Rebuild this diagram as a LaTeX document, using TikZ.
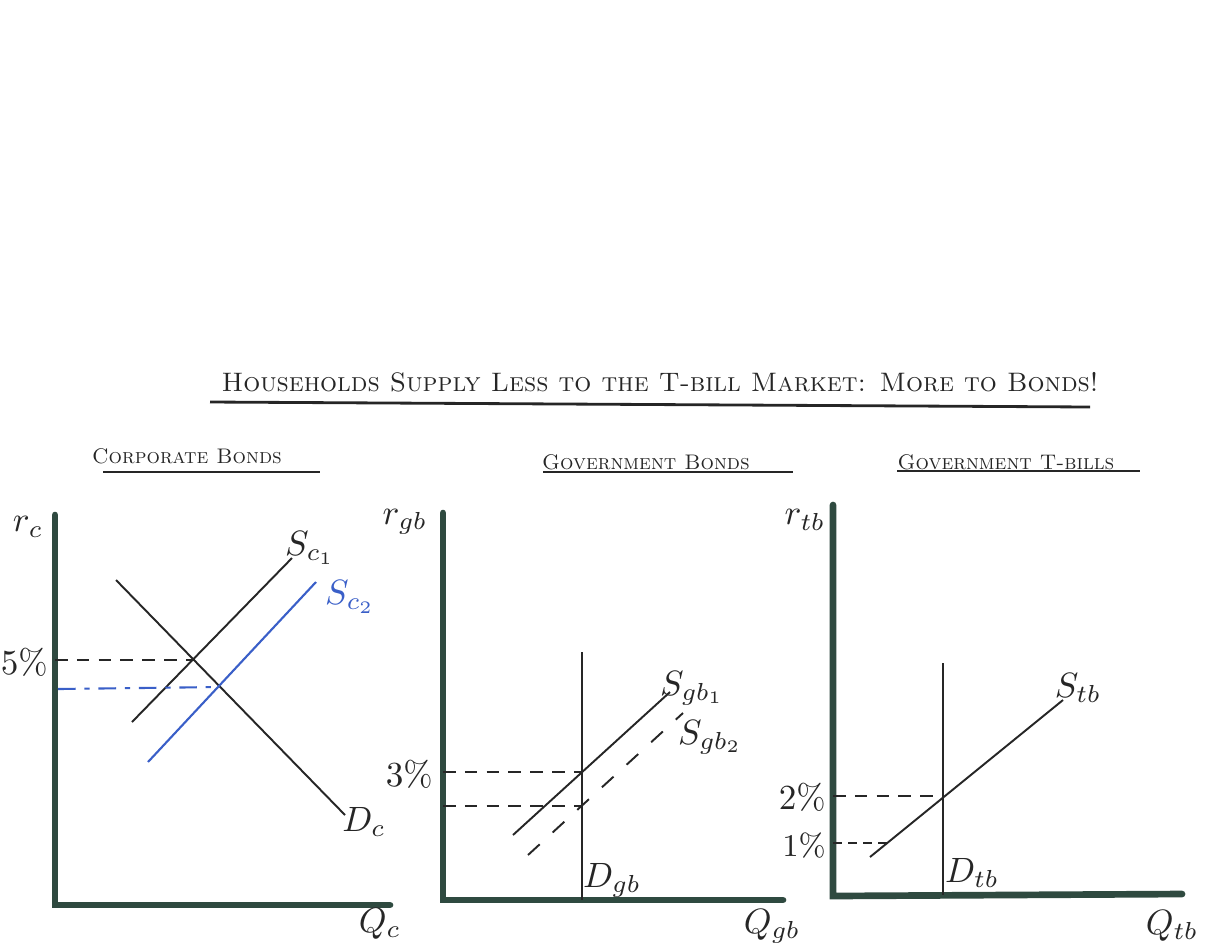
\documentclass[tikz,border=0pt]{standalone}
\usepackage{amsmath}
\usepackage{tikz}
\usetikzlibrary{positioning,calc}
\usepackage{xcolor}
\definecolor{axisgreen}{HTML}{2F4A40}
\definecolor{penblue}{HTML}{3A5FC8}
\definecolor{penblack}{HTML}{262626}

\begin{document}
\begin{tikzpicture}[
  x=0.01cm, y=-0.01cm,
  axis/.style={line width=1.9pt, draw=axisgreen, line cap=round},
  curve/.style={line width=0.55pt, draw=penblack},
  shifted/.style={line width=0.6pt, draw=penblue},
  guide/.style={line width=0.55pt, draw=penblack, dash pattern=on 3.6pt off 2.6pt},
  lbl/.style={font=\normalsize, text=penblack, inner sep=1pt},
  head/.style={font=\fontsize{6}{7}\selectfont, text=penblack, inner sep=1pt}
]
  \useasboundingbox (0,0) rectangle (1231,942);

  % Title
  \node[font=\fontsize{7.6}{9}\selectfont, text=penblack] (title) at (660,382)
    {\textsc{Households Supply Less to the T-bill Market: More to Bonds!}};
  \draw[line width=0.8pt, penblack] (210,402) -- (1090,407);

  % ---------- Corporate bonds ----------
  \node[head] (hc) at (187,456) {\textsc{Corporate Bonds}};
  \draw[line width=0.7pt, penblack] (103,472) -- (320,472);
  \coordinate (oc) at (55,905);
  \coordinate (ytc) at (55,515);
  \coordinate (xec) at (390,905);
  \draw[axis] (ytc) -- (oc) -- (xec);
  \node[lbl] (rc) at (28,527) {$r_c$};
  \node[lbl] (qc) at (380,924) {$Q_c$};

  \coordinate (dca) at (116,580);
  \coordinate (dcb) at (345,815);
  \draw[curve] (dca) -- (dcb);
  \node[lbl] (dc) at (364,822) {$D_c$};

  \coordinate (sc1a) at (132,722);
  \coordinate (sc1b) at (292,558);
  \draw[curve] (sc1a) -- (sc1b);
  \node[lbl] (sc1) at (310,548) {$S_{c_1}$};

  \coordinate (sc2a) at (148,762);
  \coordinate (sc2b) at (316,582);
  \draw[shifted] (sc2a) -- (sc2b);
  \node[lbl, text=penblue] (sc2) at (350,597) {$S_{c_2}$};

  \coordinate (ec1) at (195,660);
  \coordinate (ec2) at (220,687);
  \draw[guide] (ec1 -| oc) -- (ec1);
  \draw[shifted, dash pattern=on 5pt off 2.5pt on 1.5pt off 2.5pt] (58,689) -- (ec2);
  \node[lbl, anchor=east] (pc) at (52,662) {$5\%$};

  % ---------- Government bonds ----------
  \node[head] (hg) at (646,462) {\textsc{Government Bonds}};
  \draw[line width=0.7pt, penblack] (543,472) -- (793,472);
  \coordinate (og) at (443,900);
  \coordinate (ytg) at (443,513);
  \coordinate (xeg) at (783,900);
  \draw[axis] (ytg) -- (og) -- (xeg);
  \node[lbl] (rg) at (405,522) {$r_{gb}$};
  \node[lbl] (qg) at (772,926) {$Q_{gb}$};

  \coordinate (dgt) at (582,652);
  \coordinate (dgb) at (582,900);
  \draw[curve] (dgt) -- (dgb);
  \node[lbl] (dg) at (612,880) {$D_{gb}$};

  \coordinate (sg1a) at (513,835);
  \coordinate (sg1b) at (670,692);
  \draw[curve] (sg1a) -- (sg1b);
  \node[lbl] (sg1) at (692,688) {$S_{gb_1}$};

  \coordinate (sg2a) at (528,855);
  \coordinate (sg2b) at (683,713);
  \draw[guide, dash pattern=on 4.5pt off 5pt] (sg2a) -- (sg2b);
  \node[lbl] (sg2) at (710,737) {$S_{gb_2}$};

  \coordinate (eg1) at (582,772);
  \coordinate (eg2) at (582,806);
  \draw[guide] (eg1 -| og) -- (eg1);
  \draw[guide] (eg2 -| og) -- (eg2);
  \node[lbl, anchor=east] (pg) at (437,774) {$3\%$};

  % ---------- Government T-bills ----------
  \node[head] (ht) at (1006,462) {\textsc{Government T-bills}};
  \draw[line width=0.7pt, penblack] (897,471) -- (1140,471);
  \coordinate (ot) at (833,896);
  \coordinate (ytt) at (833,505);
  \coordinate (xet) at (1182,894);
  \draw[axis] (ytt) -- (ot) -- (xet);
  \node[lbl] (rt) at (805,520) {$r_{tb}$};
  \node[lbl] (qt) at (1172,926) {$Q_{tb}$};

  \coordinate (dtt) at (943,663);
  \coordinate (dtb) at (943,895);
  \draw[curve] (dtt) -- (dtb);
  \node[lbl] (dt) at (972,873) {$D_{tb}$};

  \coordinate (sta) at (870,857);
  \coordinate (stb) at (1063,700);
  \draw[curve] (sta) -- (stb);
  \node[lbl] (st) at (1078,688) {$S_{tb}$};

  \coordinate (et1) at (943,796);
  \coordinate (et2) at (887,843);
  \draw[guide] (et1 -| ot) -- (et1);
  \draw[guide, dash pattern=on 2.5pt off 1.8pt] (et2 -| ot) -- (et2);
  \node[lbl, anchor=east] (pt2) at (830,797) {$2\%$};
  \node[lbl, font=\small, anchor=east] (pt1) at (830,845) {$1\%$};
\end{tikzpicture}
\end{document}
